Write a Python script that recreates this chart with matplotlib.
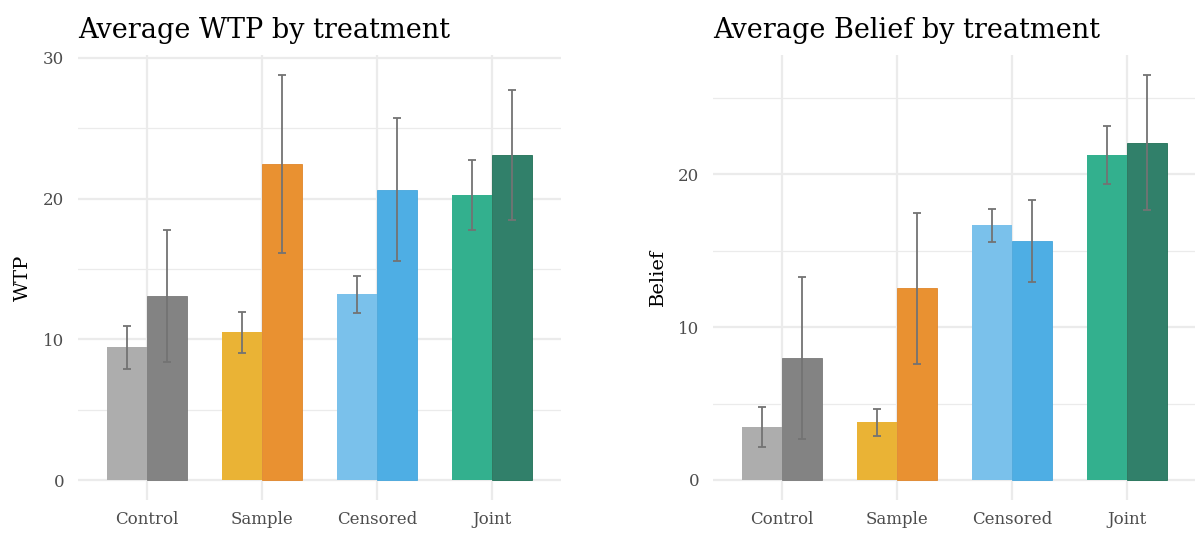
import matplotlib
matplotlib.use("Agg")
import matplotlib.pyplot as plt
import numpy as np

# Treatment groups and the two bars shown for each
treatments = ["Control", "Sample", "Censored", "Joint"]

wtp_first = [9.45, 10.52, 13.22, 20.26]
wtp_first_lo = [7.91, 9.03, 11.84, 17.77]
wtp_first_hi = [10.97, 11.96, 14.52, 22.74]
wtp_second = [13.08, 22.46, 20.61, 23.10]
wtp_second_lo = [8.39, 16.11, 15.56, 18.46]
wtp_second_hi = [17.74, 28.76, 25.70, 27.74]

belief_first = [3.47, 3.80, 16.69, 21.27]
belief_first_lo = [2.16, 2.90, 15.60, 19.37]
belief_first_hi = [4.76, 4.65, 17.76, 23.17]
belief_second = [7.98, 12.57, 15.64, 22.05]
belief_second_lo = [2.68, 7.59, 12.94, 17.65]
belief_second_hi = [13.26, 17.49, 18.32, 26.48]

light_colors = ["#ADADAD", "#EAB335", "#7AC1EB", "#33B08E"]
dark_colors = ["#838383", "#E99131", "#4EAEE4", "#31806A"]
edge_colors = ["#7A7A7A", "#E0862A", "#45A5DC", "#1F6F55"]

GRID_COLOR = "#EBEBEB"
ERR_COLOR = "#737373"
TEXT_GRAY = "#4D4D4D"
FONT = ["DejaVu Serif"]

plt.rcParams["font.family"] = FONT

W, H = 1195, 537
fig = plt.figure(figsize=(W / 100, H / 100), dpi=100)


def px_axes(x0, x1, y0, y1):
    return fig.add_axes([x0 / W, 1 - y1 / H, (x1 - x0) / W, (y1 - y0) / H])


def draw_panel(ax, first, f_lo, f_hi, second, s_lo, s_hi, ylim,
               major, minor, title, ylabel):
    x = np.arange(len(treatments))
    bw = 0.35
    ax.set_xlim(-0.6, len(treatments) - 0.4)
    ax.set_ylim(*ylim)

    # background grid
    for v in major:
        ax.axhline(v, color=GRID_COLOR, lw=1.6, zorder=0)
    for v in minor:
        ax.axhline(v, color=GRID_COLOR, lw=0.9, zorder=0)
    for xi in x:
        ax.axvline(xi, color=GRID_COLOR, lw=1.6, zorder=0)

    ax.bar(x - bw / 2, first, width=bw, color=light_colors, zorder=2)
    ax.bar(x + bw / 2, second, width=bw, color=dark_colors,
           edgecolor=edge_colors, linewidth=0.6, zorder=2)

    for xs, vals, lo, hi in [(x - bw / 2, first, f_lo, f_hi),
                             (x + bw / 2, second, s_lo, s_hi)]:
        vals = np.array(vals)
        yerr = [vals - np.array(lo), np.array(hi) - vals]
        ax.errorbar(xs, vals, yerr=yerr, fmt="none", ecolor=ERR_COLOR,
                    elinewidth=1.3, capsize=3.2, capthick=1.3, zorder=3)

    for s in ax.spines.values():
        s.set_visible(False)
    ax.set_xticks(x)
    ax.set_xticklabels(treatments)
    ax.set_yticks(major)
    ax.set_yticklabels([str(v) for v in major])
    ax.tick_params(length=0, labelsize=12, labelcolor=TEXT_GRAY)
    ax.tick_params(axis="x", pad=8)
    ax.tick_params(axis="y", pad=10)
    ax.set_ylabel(ylabel, fontsize=14, color="black", labelpad=8)
    ax.set_title(title, loc="left", fontsize=19.5, pad=12, x=0)


ax1 = px_axes(78, 561, 55, 500)
draw_panel(ax1, wtp_first, wtp_first_lo, wtp_first_hi,
           wtp_second, wtp_second_lo, wtp_second_hi,
           ylim=(-1.42, 30.21),
           major=[0, 10, 20, 30], minor=[5, 15, 25],
           title="Average WTP by treatment", ylabel="WTP")

ax2 = px_axes(713, 1196, 55, 500)
draw_panel(ax2, belief_first, belief_first_lo, belief_first_hi,
           belief_second, belief_second_lo, belief_second_hi,
           ylim=(-1.31, 27.81),
           major=[0, 10, 20], minor=[5, 15, 25],
           title="Average Belief by treatment", ylabel="Belief")

fig.savefig("out.png", dpi=100, facecolor="white")
